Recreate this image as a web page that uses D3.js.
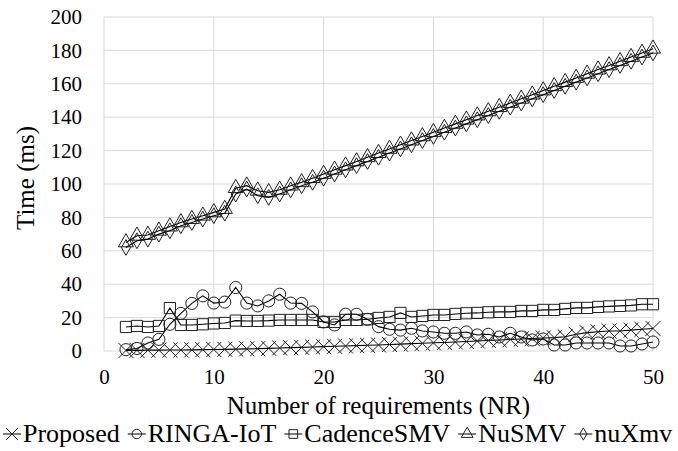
<!DOCTYPE html>
<html>
<head>
<meta charset="utf-8">
<script src="https://cdn.jsdelivr.net/npm/d3@7"></script>
<style>
  body { margin: 0; background: #fff; }
</style>
</head>
<body>
<svg id="chart" width="678" height="451"></svg>
<script>
// number of requirements (x values)
var nr = [2,3,4,5,6,7,8,9,10,11,12,13,14,15,16,17,18,19,20,21,22,23,24,25,26,
          27,28,29,30,31,32,33,34,35,36,37,38,39,40,41,42,43,44,45,46,47,48,49,50];

var proposed = [0.3,0.4,0.5,0.5,0.6,0.6,0.7,0.8,0.9,1,1.1,1.3,1.4,1.6,1.8,2,2.2,2.4,2.6,2.8,
                3,3.2,3.4,3.6,3.9,4.1,4.4,4.6,4.9,5.1,5.4,5.7,6,6.3,6.6,6.9,7.2,7.5,7.8,8,
                8.5,10,11,11.5,12,12,12.5,13,13.5];
var ringa = [0.8,1.5,4.8,7,16,22.5,28.5,33,28.7,29.3,38,28.7,27,30,34,28.7,28.5,23.4,17.4,15.6,
             22,22,19,14.6,13,12.5,13.6,12,11.4,10.6,10.6,11.4,9.6,10,8.4,10.6,8.4,6.6,7.2,3.6,
             3.6,4.8,4.8,4.8,4.8,3,3,4.2,5.4];
var cadence = [14.4,15,14.4,15,25.7,15.6,15.6,16,16.5,16.8,18.2,18,18,18.2,18.6,18.6,18.6,18.6,17.4,17.4,
               18.6,18.6,19,19.8,20.4,22.8,20.4,21,21.6,21.6,22.2,22.6,22.8,23.2,23.4,23.4,24,24,24.6,24.6,
               25.2,25.8,25.8,26.4,26.7,27,27.3,28,28];
var nusmv = [65,69,69.5,72,74.5,77,79,81,83,85,97.5,99,96,95,96.5,99,101,103.5,106,108.5,
             111,113.5,116,118.5,121,123.5,126,128.5,131,133.5,136,138.5,141,143.5,146,148.5,151,153.5,156,158.5,
             161,163.5,166,168.5,171,173.5,176,178.5,181];
var nuxmv = [62,66,67,70,72,75,77,79,81,82.5,94,97,93,92,94,96.5,99,101,103.5,106,
             108.5,111,113.5,116,118.5,121,123.5,126,128.5,131,133.5,136,138.5,141,143.5,146,148.5,151,153.5,156,
             158.5,161,163.5,166,168.5,171,173.5,176,178.5];

var seriesNames = ["Proposed", "RINGA-IoT", "CadenceSMV", "NuSMV", "nuXmv"];
var seriesValues = [proposed, ringa, cadence, nusmv, nuxmv];
var xTicks = [0,10,20,30,40,50];
var yTicks = [0,20,40,60,80,100,120,140,160,180,200];

var FONT = "Liberation Serif";

var svg = d3.select("#chart");
var margin = {left: 104, right: 25, top: 17, bottom: 100};
var W = 678, H = 451;

var x = d3.scaleLinear().domain([0, 50]).range([margin.left, W - margin.right]);
var y = d3.scaleLinear().domain([0, 200]).range([H - margin.bottom, margin.top]);

// gridlines
svg.append("g").selectAll("line.h").data(yTicks).enter().append("line")
    .attr("x1", x(0)).attr("x2", x(50))
    .attr("y1", function(d) { return y(d); }).attr("y2", function(d) { return y(d); })
    .attr("stroke", "#d9d9d9").attr("stroke-width", 1);
svg.append("g").selectAll("line.v").data(xTicks).enter().append("line")
    .attr("x1", function(d) { return x(d); }).attr("x2", function(d) { return x(d); })
    .attr("y1", y(0)).attr("y2", y(200))
    .attr("stroke", "#d9d9d9").attr("stroke-width", 1);

// axes (labels only, lines drawn as gridlines)
var yAxis = svg.append("g").attr("transform", "translate(" + (x(0) - 2) + ",0)")
    .call(d3.axisLeft(y).tickValues(yTicks).tickSize(0).tickPadding(20));
yAxis.select(".domain").remove();
yAxis.selectAll("text").style("font-family", FONT).style("font-size", "21px").attr("fill", "#000");

var xAxis = svg.append("g").attr("transform", "translate(0," + y(0) + ")")
    .call(d3.axisBottom(x).tickValues(xTicks).tickSize(0).tickPadding(18));
xAxis.select(".domain").remove();
xAxis.selectAll("text").style("font-family", FONT).style("font-size", "21px").attr("fill", "#000");

svg.append("text")
    .attr("x", (x(0) + x(50)) / 2).attr("y", 414)
    .attr("text-anchor", "middle").style("font-family", FONT).style("font-size", "25px")
    .text("Number of requirements (NR)");

svg.append("text")
    .attr("transform", "translate(34,178) rotate(-90)")
    .attr("text-anchor", "middle").style("font-family", FONT).style("font-size", "25px")
    .text("Time (ms)");

var symbols = [d3.symbolX, d3.symbolCircle, d3.symbolSquare, d3.symbolTriangle, d3.symbolDiamond];
var sizes = [150, 115, 125, 100, 72];

var line = d3.line()
    .x(function(d) { return x(d[0]); })
    .y(function(d) { return y(d[1]); });

seriesValues.forEach(function(vals, i) {
    var pts = nr.map(function(n, k) { return [n, vals[k]]; });
    var g = svg.append("g");
    g.append("path").datum(pts).attr("d", line)
        .attr("fill", "none").attr("stroke", "#000").attr("stroke-width", 1.1);
    g.selectAll("path.m").data(pts).enter().append("path")
        .attr("class", "m")
        .attr("transform", function(d) { return "translate(" + x(d[0]) + "," + y(d[1]) + ")"; })
        .attr("d", d3.symbol().type(symbols[i]).size(sizes[i]))
        .attr("fill", "none").attr("stroke", "#222").attr("stroke-width", 1);
});

// legend
var legend = svg.append("g").attr("transform", "translate(0,442)");
var lx = 3;
seriesNames.forEach(function(name, i) {
    var item = legend.append("g").attr("transform", "translate(" + lx + ",0)");
    item.append("line").attr("x1", 0).attr("x2", 18).attr("y1", -8).attr("y2", -8)
        .attr("stroke", "#000").attr("stroke-width", 1);
    item.append("path").attr("transform", "translate(9,-8)")
        .attr("d", d3.symbol().type(symbols[i]).size(sizes[i] * 0.6))
        .attr("fill", "none").attr("stroke", "#222");
    var t = item.append("text").attr("x", 20).attr("y", 0)
        .style("font-family", FONT).style("font-size", "26px").text(name);
    lx += 20 + t.node().getComputedTextLength() + 8;
});
</script>
</body>
</html>
